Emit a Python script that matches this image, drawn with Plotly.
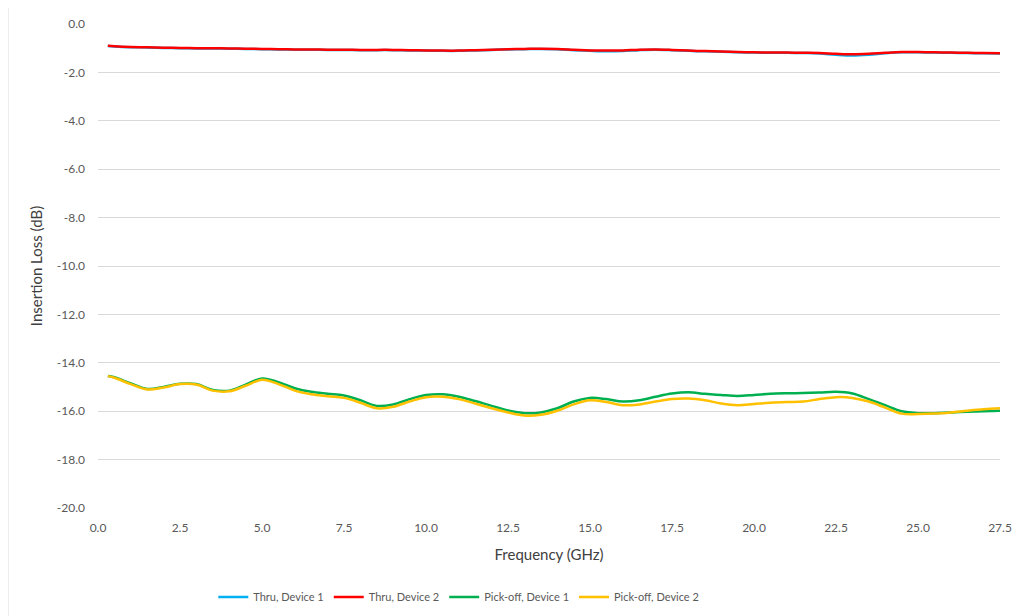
import plotly.graph_objects as go

freq_ghz = [0.3, 0.5, 1.0, 1.5, 2.0, 2.5, 3.0, 3.5, 4.0, 4.5, 5.0, 5.5, 6.0, 6.5, 7.0, 7.5,
            8.0, 8.5, 9.0, 9.5, 10.0, 10.5, 11.0, 11.5, 12.0, 12.5, 13.0, 13.5, 14.0, 14.5,
            15.0, 15.5, 16.0, 16.5, 17.0, 17.5, 18.0, 18.5, 19.0, 19.5, 20.0, 20.5, 21.0,
            21.5, 22.0, 22.5, 23.0, 23.5, 24.0, 24.5, 25.0, 25.5, 26.0, 26.5, 27.0, 27.5]

thru_dev1 = [-0.91, -0.93, -0.96, -0.97, -0.99, -1.00, -1.01, -1.01, -1.02, -1.03, -1.04,
             -1.05, -1.06, -1.06, -1.07, -1.07, -1.08, -1.08, -1.08, -1.09, -1.10, -1.11,
             -1.11, -1.09, -1.07, -1.05, -1.04, -1.03, -1.04, -1.08, -1.11, -1.13, -1.12,
             -1.08, -1.06, -1.08, -1.11, -1.13, -1.15, -1.17, -1.18, -1.19, -1.19, -1.20,
             -1.22, -1.27, -1.30, -1.27, -1.21, -1.17, -1.17, -1.18, -1.19, -1.20, -1.21, -1.22]

thru_dev2 = [-0.90, -0.92, -0.95, -0.96, -0.98, -0.99, -1.00, -1.00, -1.01, -1.02, -1.03,
             -1.04, -1.05, -1.05, -1.06, -1.06, -1.07, -1.07, -1.07, -1.08, -1.09, -1.10,
             -1.10, -1.08, -1.06, -1.04, -1.03, -1.02, -1.03, -1.06, -1.09, -1.10, -1.09,
             -1.06, -1.05, -1.07, -1.10, -1.12, -1.14, -1.16, -1.17, -1.18, -1.18, -1.19,
             -1.20, -1.23, -1.25, -1.23, -1.19, -1.16, -1.16, -1.17, -1.18, -1.19, -1.20, -1.21]

pickoff_dev1 = [-14.55, -14.60, -14.85, -15.08, -15.00, -14.87, -14.88, -15.12, -15.15, -14.90,
                -14.65, -14.80, -15.05, -15.20, -15.28, -15.35, -15.55, -15.78, -15.72, -15.50,
                -15.33, -15.30, -15.40, -15.58, -15.78, -15.97, -16.08, -16.05, -15.88, -15.60,
                -15.45, -15.50, -15.60, -15.55, -15.40, -15.27, -15.22, -15.28, -15.33, -15.37,
                -15.33, -15.28, -15.26, -15.25, -15.23, -15.20, -15.27, -15.50, -15.75, -16.00,
                -16.08, -16.08, -16.05, -16.02, -16.00, -15.98]

pickoff_dev2 = [-14.55, -14.62, -14.88, -15.10, -15.02, -14.88, -14.90, -15.15, -15.18, -14.95,
                -14.70, -14.88, -15.15, -15.30, -15.38, -15.45, -15.65, -15.88, -15.82, -15.60,
                -15.42, -15.40, -15.50, -15.68, -15.88, -16.05, -16.18, -16.15, -15.98, -15.72,
                -15.55, -15.62, -15.75, -15.72, -15.60, -15.50, -15.48, -15.55, -15.68, -15.75,
                -15.70, -15.65, -15.62, -15.60, -15.50, -15.42, -15.45, -15.60, -15.85, -16.10,
                -16.12, -16.10, -16.05, -15.98, -15.92, -15.88]

y_ticks = [0, -2, -4, -6, -8, -10, -12, -14, -16, -18, -20]
y_tick_text = ['0.0', '-2.0', '-4.0', '-6.0', '-8.0', '-10.0', '-12.0', '-14.0', '-16.0', '-18.0', '-20.0']
x_ticks = [0, 2.5, 5, 7.5, 10, 12.5, 15, 17.5, 20, 22.5, 25, 27.5]

series = [('Thru, Device 1', thru_dev1, '#00B0F0'),
          ('Thru, Device 2', thru_dev2, '#FF0000'),
          ('Pick-off, Device 1', pickoff_dev1, '#00B050'),
          ('Pick-off, Device 2', pickoff_dev2, '#FFC000')]

fig = go.Figure()
for name, vals, color in series:
    fig.add_trace(go.Scatter(x=freq_ghz, y=vals, name=name, mode='lines',
                             line=dict(color=color, width=2.5, shape='spline')))

# page body adds an 8px offset, so margins are trimmed to land the plot where the original sits
font_family = 'Lato, Open Sans, sans-serif'
fig.update_layout(
    width=1029, height=616,
    paper_bgcolor='white', plot_bgcolor='white',
    margin=dict(l=90, r=37, t=16, b=116),
    font=dict(family=font_family, size=12, color='#595959'),
    showlegend=True,
    legend=dict(orientation='h', x=0.40, xanchor='center', y=-0.184, yanchor='middle',
                font=dict(size=11, color='#595959'), itemwidth=30),
    xaxis=dict(range=[0, 27.5], tickvals=x_ticks, tickformat='.1f', showgrid=False,
               zeroline=False, showline=False, ticks='', ticklabelstandoff=11,
               automargin=False,
               title=dict(text='Frequency (GHz)', standoff=15,
                          font=dict(size=15, color='#404040'))),
    yaxis=dict(range=[-20, 0], tickvals=y_ticks, ticktext=y_tick_text, showgrid=True,
               gridcolor='#D9D9D9', gridwidth=1, zeroline=False, showline=False, ticks='',
               ticklabelstandoff=12, automargin=False,
               title=dict(text='Insertion Loss (dB)', standoff=10,
                          font=dict(size=15, color='#404040'))),
    shapes=[dict(type='rect', xref='paper', yref='paper', x0=-0.0998, x1=1.0277,
                 y0=-0.25, y1=1.037, line=dict(color='#D9D9D9', width=1))],
)

fig.write_html('out.html')
